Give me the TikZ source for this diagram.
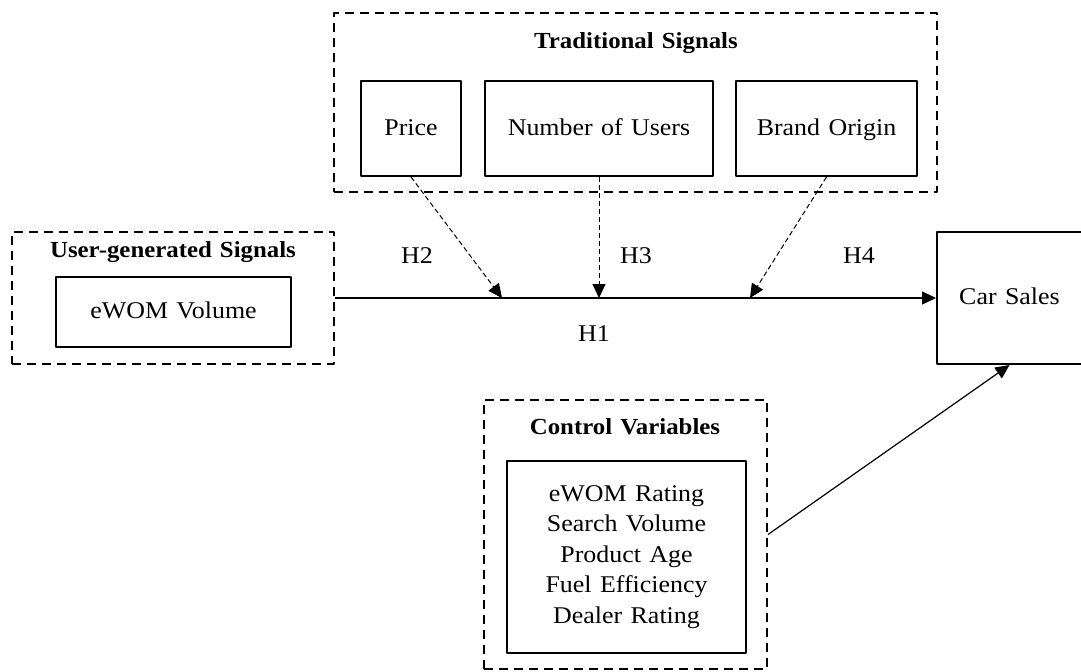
\documentclass[tikz,border=0pt]{standalone}
\usepackage{fontspec}
\setmainfont{Liberation Serif}[FakeStretch=1.08, WordSpace=1.3]
\usetikzlibrary{arrows.meta}
\begin{document}
\begin{tikzpicture}[x=0.5pt, y=-0.5pt, font=\fontsize{12}{15.25}\selectfont, line join=round, >={Triangle[length=7pt,width=6.5pt]},
	grp/.style 2 args={draw, line width=1pt, dash pattern=on 4.5pt off 3pt, minimum width=#1, minimum height=#2, inner sep=0pt},
	box/.style 2 args={draw, line width=1pt, minimum width=#1, minimum height=#2, inner sep=0pt, align=center},
	one/.style={text height=1.9ex, text depth=0.45ex},
	ttl/.style={font=\fontsize{11.5}{14}\selectfont\bfseries},
	hyp/.style={line width=0.5pt, dash pattern=on 2.5pt off 1.5pt, ->}]
		\useasboundingbox (0,0) rectangle (1081,671);
		\node[grp={301.5pt}{89.5pt}] (trad) at (635.5,102.5) {};
		\node[ttl] (tradt) at (636,43) {Traditional Signals};
		\node[box={50pt}{47.5pt}, one] (price) at (411,128.5) {Price};
		\node[box={114pt}{47.5pt}, one] (users) at (599,128.5) {Number of Users};
		\node[box={90.5pt}{47.5pt}, one] (brand) at (826.5,128.5) {Brand Origin};
		\node[grp={161pt}{66pt}] (ugs) at (173,298) {};
		\node[ttl] (ugst) at (173,252) {User-generated Signals};
		\node[box={117.5pt}{35pt}, one] (ewom) at (173.5,312) {eWOM Volume};
		\node[box={72.5pt}{66pt}, one] (sales) at (1009.5,298) {Car Sales};
		\node[grp={141.5pt}{134.5pt}] (ctrl) at (625.5,534.5) {};
		\node[ttl] (ctrlt) at (625,427) {Control Variables};
		\node[box={119.5pt}{96pt}] (cvars) at (626.5,557) {eWOM Rating\\Search Volume\\Product Age\\Fuel Efficiency\\Dealer Rating};
		\coordinate (j2) at (502,298);
		\coordinate (j4) at (750,298);
		\draw[line width=0.6pt, ->] (ugs.east) -- (sales.west);
		\draw[hyp] (price.south) -- (j2);
		\draw[hyp] (users.south) -- (users.south |- ugs.east);
		\draw[hyp] (brand.south) -- (j4);
		\draw[line width=0.6pt, ->] (ctrl.east) -- (sales.south);
		\foreach \n/\x/\y in {1/594/335, 2/417/257, 3/636/257, 4/859/257}
			\node[one] (h\n) at (\x,\y) {H\n};
\end{tikzpicture}
\end{document}
